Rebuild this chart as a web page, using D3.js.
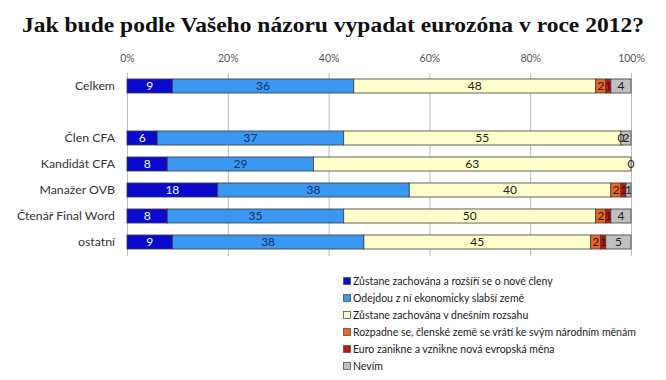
<!DOCTYPE html>
<html><head><meta charset="utf-8">
<script src="https://cdn.jsdelivr.net/npm/d3@7"></script>
<style>
html,body{margin:0;padding:0;background:#fff;}
svg{display:block;}
</style></head>
<body>
<svg id="chart" width="666" height="380"></svg>
<script>
const title = "Jak bude podle Vašeho názoru vypadat eurozóna v roce 2012?";
const categories = ["Celkem", " ", "Člen CFA", "Kandidát CFA", "Manažer OVB", "Čtenář Final Word", "ostatní"];
const seriesNames = [
  "Zůstane zachována a rozšíří se o nové členy",
  "Odejdou z ní ekonomicky slabší země",
  "Zůstane zachována v dnešním rozsahu",
  "Rozpadne se, členské země se vrátí ke svým národním měnám",
  "Euro zanikne a vznikne nová evropská měna",
  "Nevím"
];
const zustaneRozsiri = [9, null, 6, 8, 18, 8, 9];
const odejdou       = [36, null, 37, 29, 38, 35, 38];
const zustaneDnes   = [48, null, 55, 63, 40, 50, 45];
const rozpadne      = [2, null, 0, 0, 2, 2, 2];
const euroZanikne   = [1, null, 0, 0, 1, 1, 1];
const nevim         = [4, null, 2, 0, 1, 4, 5];
const xTicks = [0, 20, 40, 60, 80, 100];

const seriesValues = [zustaneRozsiri, odejdou, zustaneDnes, rozpadne, euroZanikne, nevim];
const colors = ["#0A0ACF", "#3A97F2", "#FFFFCC", "#EE6420", "#C41414", "#C0C0C0"];
const labelColors = ["#ffffff", "#1B2F66", "#222222", "#222222", "#5a0a0a", "#222222"];

const svg = d3.select("#chart");
const x = d3.scaleLinear().domain([0, 100]).range([127, 631]);
const y = d3.scaleBand().domain(categories).range([73, 255]).paddingInner(0.46).paddingOuter(0.23);

const font = "Lato, 'Open Sans', sans-serif";

// title
svg.append("text")
  .attr("x", 22).attr("y", 32)
  .attr("font-family", "'Liberation Serif', 'DejaVu Serif', serif")
  .attr("font-weight", "bold")
  .attr("font-size", 22)
  .attr("fill", "#111")
  .attr("textLength", 622)
  .attr("lengthAdjust", "spacingAndGlyphs")
  .text(title);

// grid
svg.append("g").selectAll("line").data(xTicks).join("line")
  .attr("x1", d => x(d) + 0.5).attr("x2", d => x(d) + 0.5)
  .attr("y1", 73).attr("y2", 256)
  .attr("stroke", "#BDBDBD").attr("stroke-width", 1);

// top axis
const axis = d3.axisTop(x).tickValues(xTicks).tickFormat(d => d + "%").tickSize(0).tickPadding(0);
const ga = svg.append("g").attr("transform", "translate(0,62)").call(axis);
ga.select(".domain").remove();
ga.selectAll("text").attr("font-family", font).attr("font-size", 10.5).attr("fill", "#555");

// category labels
svg.append("g").selectAll("text").data(categories).join("text")
  .attr("x", 115)
  .attr("y", d => y(d) + y.bandwidth() / 2)
  .attr("dy", "0.35em")
  .attr("text-anchor", "end")
  .attr("font-family", font).attr("font-size", 12.3).attr("fill", "#333")
  .text(d => d.trim());

// stacked bars
const rows = categories.map((c, i) => {
  const r = {cat: c};
  seriesNames.forEach((s, k) => r[s] = seriesValues[k][i]);
  return r;
}).filter(r => r[seriesNames[0]] !== null);

const stacked = d3.stack().keys(seriesNames)(rows);

const gs = svg.append("g").selectAll("g").data(stacked).join("g");
gs.selectAll("rect").data(d => d).join("rect")
  .attr("x", d => x(d[0]))
  .attr("y", d => y(d.data.cat))
  .attr("width", d => x(d[1]) - x(d[0]))
  .attr("height", y.bandwidth())
  .attr("fill", function() { return colors[d3.select(this.parentNode).datum().index]; })
  .attr("stroke", "#3c3c3c").attr("stroke-width", 0.8);

// labels: zero-width segments sharing a position show a single "0"
const seenZero = new Set();
const labels = [];
stacked.forEach(s => s.forEach(p => {
  const v = p[1] - p[0];
  if (v === 0) {
    const key = p.data.cat + "|" + p[0];
    if (seenZero.has(key)) return;
    seenZero.add(key);
  }
  labels.push({p, k: s.index, v});
}));
svg.append("g").selectAll("text").data(labels).join("text")
  .attr("x", d => (x(d.p[0]) + x(d.p[1])) / 2)
  .attr("y", d => y(d.p.data.cat) + y.bandwidth() / 2)
  .attr("dy", "0.36em")
  .attr("text-anchor", "middle")
  .attr("font-family", font).attr("font-size", 12)
  .attr("fill", d => labelColors[d.k])
  .text(d => d.v);

// legend
const lg = svg.append("g").selectAll("g").data(seriesNames).join("g")
  .attr("transform", (d, i) => `translate(343,${281 + i * 17})`);
lg.append("rect").attr("x", 0.5).attr("y", -3.5).attr("width", 7).attr("height", 7)
  .attr("fill", (d, i) => colors[i]).attr("stroke", "#555").attr("stroke-width", 0.8);
lg.append("text").attr("x", 10).attr("dy", "0.35em")
  .attr("font-family", font).attr("font-size", 10.5).attr("fill", "#222")
  .text(d => d);
</script>
</body></html>
